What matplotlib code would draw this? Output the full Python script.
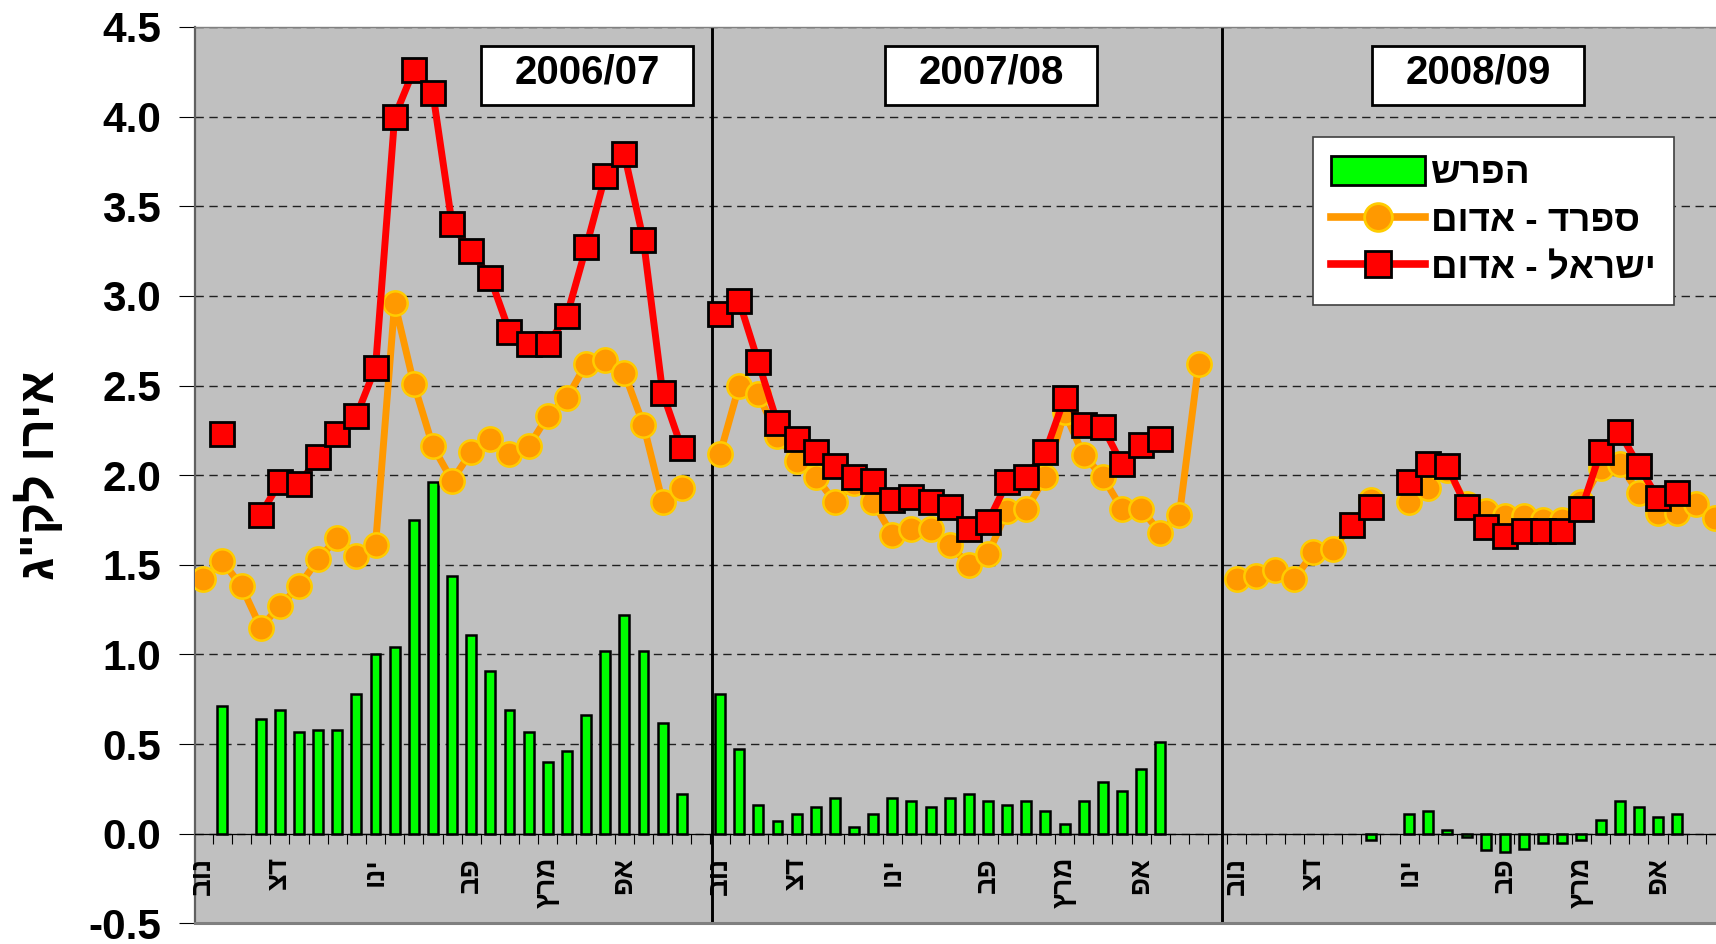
import numpy as np
import matplotlib
matplotlib.use('Agg')
import matplotlib.pyplot as plt
from matplotlib.patches import Rectangle
from matplotlib.lines import Line2D

plt.rcParams['font.family'] = ['Liberation Sans', 'DejaVu Sans']
plt.rcParams['font.weight'] = 'bold'
plt.rcParams['axes.unicode_minus'] = False

nan = np.nan

# seasons on one weekly axis
season_names = ['2006/07', '2007/08', '2008/09']
season_start = [0, 27, 54]
season_sep = [26.56, 53.23]
season_box_center = [20.05, 41.15, 66.6]

month_names = ['נוב', 'דצ', 'ינו', 'פב', 'מרץ', 'אפ']
month_offsets = [0, 4, 9, 14, 18, 22]

# Spain - red pepper (EUR/kg)
spain_0607 = [1.42, 1.52, 1.38, 1.15, 1.27, 1.38, 1.53, 1.65, 1.55, 1.61, 2.96, 2.51, 2.16,
              1.97, 2.13, 2.20, 2.12, 2.16, 2.33, 2.43, 2.62, 2.64, 2.57, 2.28, 1.85, 1.93]
spain_0708 = [2.12, 2.50, 2.45, 2.22, 2.08, 1.99, 1.85, 1.955, 1.85, 1.665, 1.70, 1.70, 1.61,
              1.50, 1.56, 1.80, 1.81, 1.99, 2.35, 2.11, 1.99, 1.81, 1.81, 1.68, 1.78, 2.62]
spain_0809 = [1.42, 1.44, 1.47, 1.42, 1.57, 1.59, 1.72, 1.86, nan, 1.85, 1.93, 2.03, 1.84,
              1.80, 1.77, 1.77, 1.75, 1.75, 1.85, 2.04, 2.06, 1.90, 1.79, 1.79, 1.84, 1.76]

# Israel - red pepper (EUR/kg)
israel_0607 = [nan, 2.23, nan, 1.78, 1.96, 1.95, 2.10, 2.23, 2.33, 2.60, 4.00, 4.26, 4.13,
               3.40, 3.25, 3.10, 2.80, 2.73, 2.73, 2.89, 3.27, 3.67, 3.79, 3.31, 2.46, 2.15]
israel_0708 = [2.90, 2.97, 2.63, 2.29, 2.20, 2.13, 2.05, 1.99, 1.97, 1.86, 1.88, 1.85, 1.82,
               1.70, 1.74, 1.96, 1.99, 2.13, 2.43, 2.28, 2.27, 2.06, 2.17, 2.20, nan, nan]
israel_0809 = [nan, nan, nan, nan, nan, nan, 1.72, 1.82, nan, 1.96, 2.06, 2.05, 1.82,
               1.71, 1.66, 1.69, 1.69, 1.69, 1.81, 2.13, 2.24, 2.05, 1.87, 1.90, nan, nan]

# difference
diff_0607 = [nan, 0.71, nan, 0.64, 0.69, 0.565, 0.58, 0.58, 0.78, 1.00, 1.04, 1.75, 1.96,
             1.44, 1.11, 0.91, 0.69, 0.565, 0.40, 0.46, 0.66, 1.02, 1.22, 1.02, 0.62, 0.22]
diff_0708 = [0.78, 0.47, 0.16, 0.07, 0.11, 0.15, 0.20, 0.035, 0.11, 0.20, 0.18, 0.15, 0.20,
             0.22, 0.18, 0.16, 0.18, 0.125, 0.056, 0.18, 0.29, 0.24, 0.36, 0.51, nan, nan]
diff_0809 = [nan, nan, nan, nan, nan, nan, nan, -0.037, nan, 0.11, 0.125, 0.022, -0.02,
             -0.09, -0.10, -0.084, -0.05, -0.05, -0.037, 0.075, 0.18, 0.15, 0.093, 0.11, nan, nan]

spain = [spain_0607, spain_0708, spain_0809]
israel = [israel_0607, israel_0708, israel_0809]
diff = [diff_0607, diff_0708, diff_0809]

legend_labels = ['הפרש', 'ספרד - אדום', 'ישראל - אדום']
y_label = 'אירו לק"ג'


def rtl(s):
    # matplotlib has no bidi, so give it the visual order
    return s[::-1]


GREEN = '#00FF00'
ORANGE = '#FF9900'
GOLD = '#FFCC00'
RED = '#FF0000'
BG = '#C0C0C0'

W, H = 1716, 944
fig = plt.figure(figsize=(W / 100, H / 100), dpi=100)
ax = fig.add_axes([195 / W, 1 - 923.3 / H, 1 - 195 / W, (923.3 - 27) / H])
ax.set_facecolor(BG)
ax.set_xlim(-0.43, 79.03)
ax.set_ylim(-0.5, 4.5)

for i in range(3):
    x = season_start[i] + np.arange(len(spain[i]))
    d = np.array(diff[i], dtype=float)
    ok = ~np.isnan(d)
    ax.bar(x[ok], d[ok], width=0.52, color=GREEN, edgecolor='black', linewidth=1.8, zorder=2)
    ax.plot(x, spain[i], color=ORANGE, lw=5, marker='o', ms=17.5, mfc=ORANGE, mec=GOLD,
            mew=1.8, zorder=3)
    ax.plot(x, israel[i], color=RED, lw=5, marker='s', ms=17, mfc=RED, mec='black',
            mew=2, zorder=4)
    for off, name in zip(month_offsets, month_names):
        ax.text(season_start[i] + off, -0.13, rtl(name), rotation=90, ha='center', va='top',
                fontsize=20, fontweight='bold', zorder=5)
    # season box
    cx = season_box_center[i]
    ax.add_patch(Rectangle((cx - 5.55, 4.065), 11.1, 0.331, facecolor='white',
                           edgecolor='black', linewidth=2, zorder=6))
    ax.text(cx, 4.183, season_names[i], ha='center', va='baseline', fontsize=29,
            fontweight='bold', zorder=7)

for s in season_sep:
    ax.axvline(s, color='black', lw=2.1, zorder=2.5)

# axes styling
ax.set_yticks(np.arange(-0.5, 4.51, 0.5))
ax.yaxis.set_major_formatter(matplotlib.ticker.FormatStrFormatter('%.1f'))
ax.tick_params(axis='y', direction='out', length=11.5, width=0.8, color='black', pad=13,
               labelsize=30.5)
ax.yaxis.grid(True, color='#202020', lw=1.0, linestyle=(0, (6, 4)))
ax.set_axisbelow(True)

ax.set_xticks(np.arange(0.5, 79, 1.0))
ax.set_xticklabels([])
ax.tick_params(axis='x', direction='out', length=7, width=0.8, color='black')
ax.spines['bottom'].set_position(('data', 0))
ax.spines['bottom'].set_color('black')
ax.spines['bottom'].set_linewidth(0.9)
ax.spines['right'].set_visible(False)
ax.spines['top'].set_color('#808080')
ax.spines['top'].set_linewidth(1.0)
ax.spines['left'].set_color('#606060')
ax.spines['left'].set_linewidth(1.6)
ax.axhline(-0.5, color='#808080', lw=2.2, clip_on=False, zorder=8)

fig.text(0.023, 0.497, rtl(y_label), rotation=90, ha='center', va='center', fontsize=35,
         fontweight='bold')

# legend
handles = [
    Rectangle((0, 0), 1, 1, facecolor=GREEN, edgecolor='black', linewidth=2),
    Line2D([], [], color=ORANGE, lw=5.5, marker='o', ms=20, mfc=ORANGE, mec=GOLD, mew=2),
    Line2D([], [], color=RED, lw=5.5, marker='s', ms=19, mfc=RED, mec='black', mew=2),
]
leg = ax.legend(handles, [rtl(t) for t in legend_labels], loc='upper left',
                bbox_to_anchor=(0.735, 0.877), borderaxespad=0, frameon=True,
                fancybox=False, framealpha=1, edgecolor='#404040', handlelength=2.55,
                handleheight=0.85, handletextpad=0.15, labelspacing=0.33, borderpad=0.5,
                prop={'family': ['Liberation Sans', 'DejaVu Sans'], 'weight': 'bold',
                      'size': 26.5})
leg.get_frame().set_linewidth(1.2)
leg.set_zorder(9)

fig.savefig('out.png', dpi=100)
